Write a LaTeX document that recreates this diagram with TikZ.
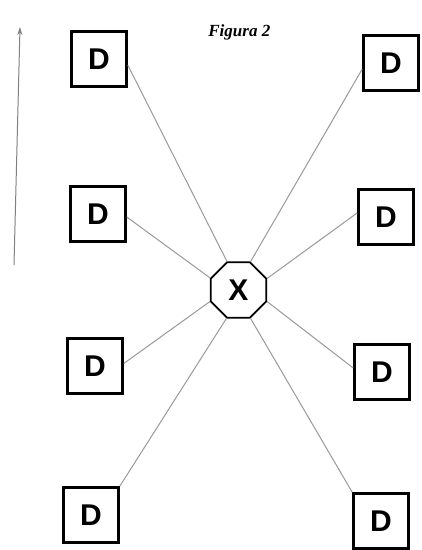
\documentclass[tikz,border=0pt]{standalone}
\usepackage{fontspec}
\setsansfont{Liberation Sans}
\setmainfont{Liberation Serif}
\usetikzlibrary{shapes.geometric,arrows.meta}
\tikzset{every picture/.style={line width=0.75pt}}

\begin{document}
\begin{tikzpicture}[x=1pt, y=-1pt,
    dbox/.style={draw, line width=2.6pt, minimum size=55pt, inner sep=0pt,
      font=\sffamily\bfseries\fontsize{30}{30}\selectfont},
    xoct/.style={draw, regular polygon, regular polygon sides=8, minimum size=60pt,
      inner sep=0pt, line width=1.8pt, font=\sffamily\bfseries\fontsize{30}{30}\selectfont},
    link/.style={draw=black!40, line width=1pt}]
    \useasboundingbox (0,0) rectangle (422,550);
    % centro
    \node[xoct] (X) at (238.5,290) {X};
    % lato sinistro
    \node[dbox] (L1) at (99,59) {D};
    \node[dbox] (L2) at (98,214) {D};
    \node[dbox] (L3) at (95,366) {D};
    \node[dbox] (L4) at (91,515) {D};
    % lato destro
    \node[dbox] (R1) at (391,63) {D};
    \node[dbox] (R2) at (386,217) {D};
    \node[dbox] (R3) at (382,372) {D};
    \node[dbox] (R4) at (381,521) {D};
    % collegamenti agli spigoli dell'ottagono
    \draw[link] (L1.-12) -- (X.112.5);
    \draw[link] (L2.-6) -- (X.157.5);
    \draw[link] (L3.5) -- (X.202.5);
    \draw[link] (L4.north east) -- (X.247.5);
    \draw[link] (R1.192) -- (X.67.5);
    \draw[link] (R2.172) -- (X.22.5);
    \draw[link] (R3.172) -- (X.-22.5);
    \draw[link] (R4.north west) -- (X.-67.5);
    % freccia e titolo
    \coordinate (atail) at (14,265);
    \coordinate (atip) at (20,27);
    \draw[black!50, line width=1pt, -{Stealth[length=8pt,width=5pt]}] (atail) -- (atip);
    \node[anchor=base west, inner sep=0pt, font=\bfseries\itshape\fontsize{17}{17}\selectfont] (fig) at (208,36) {Figura 2};
\end{tikzpicture}
\end{document}
